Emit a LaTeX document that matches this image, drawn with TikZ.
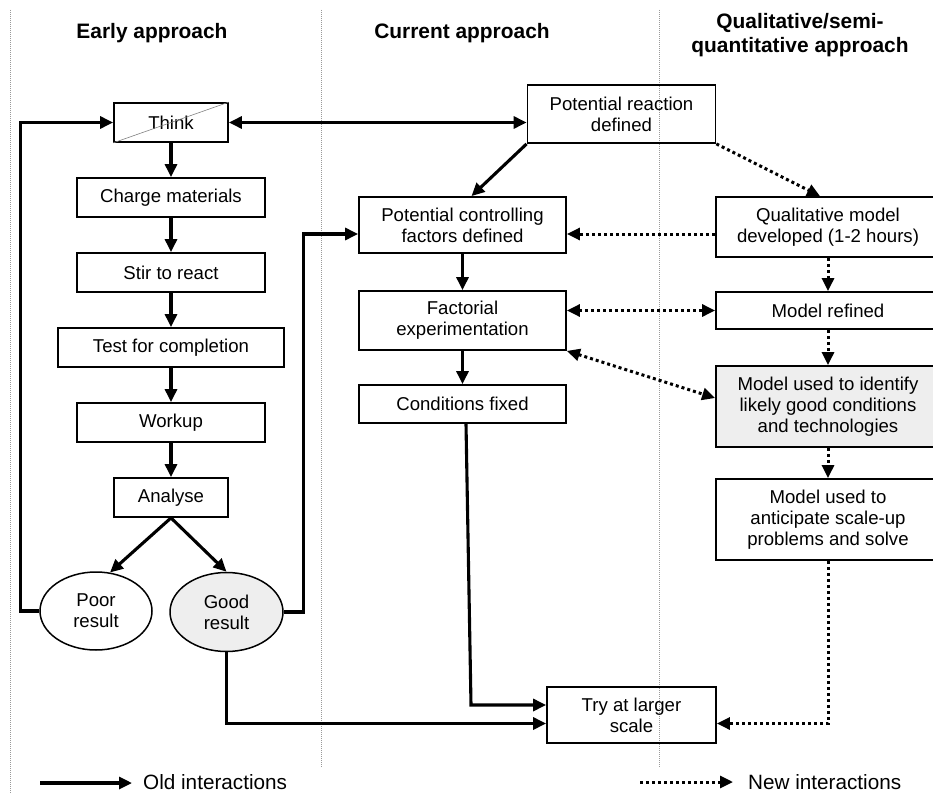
\documentclass[tikz,border=0pt]{standalone}
\usepackage{fontspec}
\setmainfont{Liberation Sans}
\usetikzlibrary{arrows.meta,shapes.geometric}
\tikzset{
  box/.style={draw,line width=1.8pt,minimum height=39pt,inner sep=0pt,align=center,font=\fontsize{18.6}{21}\selectfont},
  oval/.style={ellipse,draw,line width=1.5pt,minimum width=112pt,minimum height=78pt,inner sep=0pt,align=center,font=\fontsize{18.6}{21}\selectfont},
  old/.style={line width=3.1pt,-{Triangle[length=13pt,width=12pt]}},
  new/.style={line width=3pt,dash pattern=on 3pt off 3pt,-{Triangle[length=13pt,width=12pt]}},
  both/.style={{Triangle[length=13pt,width=12pt]}-{Triangle[length=13pt,width=12pt]}},
  divider/.style={gray!80,line width=0.8pt,dash pattern=on 1pt off 1pt},
  heading/.style={font=\fontsize{20.9}{24}\selectfont\bfseries,align=center},
  legendtext/.style={font=\fontsize{20.7}{24}\selectfont,anchor=west,inner sep=0pt}
}
\begin{document}
\begin{tikzpicture}[x=1pt,y=-1pt]
	\useasboundingbox (0,0) rectangle (933,794);
	\clip (0,0) rectangle (933,794);
	\draw[divider] (10,10) -- (10,794);
	\draw[divider] (321,10) -- (321,768);
	\draw[divider] (659,10) -- (659,768);

	\node[heading] (h1) at (152,33) {Early approach};
	\node[heading] (h2) at (462,33) {Current approach};
	\node[heading] (h3) at (800,35) {Qualitative/semi-\\quantitative approach};

	\node[box,minimum width=114pt] (think) at (171,122.5) {Think};
	\draw[gray,line width=0.6pt] (think.south west) -- (think.north east);
	\node[box,minimum width=188pt] (charge) at (171,197.5) {Charge materials};
	\node[box,minimum width=188pt] (stir) at (171,272.5) {Stir to react};
	\node[box,minimum width=226pt] (test) at (171,347.5) {Test for completion};
	\node[box,minimum width=188pt] (workup) at (171,422.5) {Workup};
	\node[box,minimum width=114pt] (analyse) at (171,497.5) {Analyse};
	\node[oval] (poor) at (96,611) {Poor\\result};
	\node[oval,fill=gray!13,minimum width=113pt,minimum height=79pt] (good) at (226.5,612) {Good\\result};

	\node[box,minimum width=188pt,minimum height=58pt] (react) at (621.5,114) {Potential reaction\\defined};
	\node[box,minimum width=207pt,minimum height=56pt] (factors) at (462.5,225) {Potential controlling\\factors defined};
	\node[box,minimum width=207pt,minimum height=59pt] (factorial) at (462.5,320.5) {Factorial\\experimentation};
	\node[box,minimum width=207pt,minimum height=38pt] (fixed) at (462.5,404) {Conditions fixed};
	\node[box,minimum width=169pt,minimum height=56pt] (larger) at (631.5,715) {Try at larger\\scale};

	\node[box,minimum width=224pt,minimum height=60pt] (qualmodel) at (828,227) {Qualitative model\\developed (1-2 hours)};
	\node[box,minimum width=224pt,minimum height=37pt] (refined) at (828,310.5) {Model refined};
	\node[box,minimum width=224pt,minimum height=81pt,fill=gray!13] (identify) at (828,406.5) {Model used to identify\\likely good conditions\\and technologies};
	\node[box,minimum width=224pt,minimum height=81pt] (anticipate) at (828,519.5) {Model used to\\anticipate scale-up\\problems and solve};

	\draw[old] (think) -- (charge);
	\draw[old] (charge) -- (stir);
	\draw[old] (stir) -- (test);
	\draw[old] (test) -- (workup);
	\draw[old] (workup) -- (analyse);
	\draw[old] (analyse.south) -- (poor.70);
	\draw[old] (analyse.south) -- (good.north);
	\draw[old] (poor.west) -- ++(-19,0) |- (think.west);
	\draw[old] (good.east) -- ++(20,0) |- ([yshift=-9pt]factors.west);
	\draw[old] (good.south) |- ([yshift=-8.5pt]larger.west);
	\draw[old] ([xshift=3.5pt]fixed.south) -- (471,705) -- ([yshift=10pt]larger.west);
	\draw[old,both] (think.east) -- (think.east -| react.west);
	\draw[old] (react.south west) -- ([xshift=9pt]factors.north);
	\draw[old] (factors) -- (factorial);
	\draw[old] (factorial) -- (fixed);

	\draw[new] (react.south east) -- ([xshift=-8pt]qualmodel.north);
	\draw[new] ([yshift=-9pt]factors.east -| qualmodel.west) -- ([yshift=-9pt]factors.east);
	\draw[new,both] ([yshift=10pt]factorial.east) -- ([yshift=10pt]factorial.east -| refined.west);
	\draw[new,both] (factorial.south east) -- ([yshift=8.5pt]identify.west);
	\draw[new] (qualmodel) -- (refined);
	\draw[new] (refined) -- (identify);
	\draw[new] (identify) -- (anticipate);
	\draw[new] (anticipate.south) |- ([yshift=-8.5pt]larger.east);

	\coordinate (oldstart) at (40,783);
	\node[legendtext] (oldlabel) at (143,782) {Old interactions};
	\draw[old] (oldstart) -- ([xshift=-11pt]oldlabel.west |- oldstart);
	\coordinate (newstart) at (640,782);
	\node[legendtext] (newlabel) at (748,782) {New interactions};
	\draw[new] (newstart) -- ([xshift=-15pt]newlabel.west |- newstart);
\end{tikzpicture}
\end{document}
